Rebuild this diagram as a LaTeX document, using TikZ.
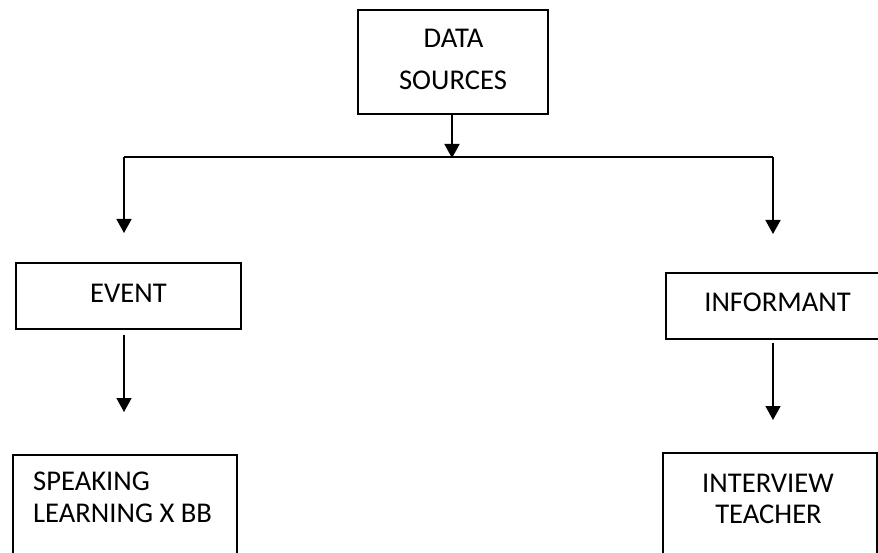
\documentclass[tikz,border=0pt]{standalone}
\usepackage{fontspec}
\setmainfont{Carlito}
\usetikzlibrary{arrows.meta}

\begin{document}
\begin{tikzpicture}[x=1bp, y=-1bp,
  box/.style={draw, line width=1.6bp, minimum width=#1, inner sep=0pt},
  txt/.style={inner sep=0pt, font=\fontsize{28.6bp}{34bp}\selectfont},
  conn/.style={line width=1.6bp},
  flow/.style={conn, -{Triangle[width=15bp, length=14bp]}}]
  \useasboundingbox (0,0) rectangle (878,553);
  \fill[white] (0,0) rectangle (878,553);
  \clip (0,0) rectangle (878,553);

  % boxes
  \node[box=190bp, minimum height=104bp] (src)   at (453,62)    {};
  \node[box=225bp, minimum height=66bp]  (event) at (128.5,296) {};
  \node[box=224bp, minimum height=66bp]  (inf)   at (778,306)   {};
  \node[box=224bp, minimum height=185bp] (speak) at (125,547.5) {};
  \node[box=214bp, minimum height=187bp] (intv)  at (770,546.5) {};

  % labels, one node per printed line
  \node[txt, anchor=base] (srcA) at (453.5,48) {DATA};
  \node[txt, anchor=base] (srcB) at (453,90)   {SOURCES};
  \node[txt, anchor=base] (evA)  at (128.5,303) {EVENT};
  \node[txt, anchor=base] (infA) at (777.5,312) {INFORMANT};
  \node[txt, anchor=base west] (spA) at (33,490) {SPEAKING};
  \node[txt, anchor=base west] (spB) at (33,522) {LEARNING X BB};
  \node[txt, anchor=base] (ivA)  at (768,492)   {INTERVIEW};
  \node[txt, anchor=base] (ivB)  at (768.5,523) {TEACHER};

  % branching bus and arrow ends
  \coordinate (busM) at (452,158);
  \coordinate (busL) at (124,157);
  \coordinate (busR) at (773,157);
  \coordinate (evIn) at (124,233);
  \coordinate (infIn) at (773,234);
  \coordinate (evOut) at (124,335);
  \coordinate (spIn) at (124,412);
  \coordinate (infOut) at (773,343);
  \coordinate (ivIn) at (773,420);

  \draw[flow] (src.south -| busM) -- (busM);
  \draw[conn] (busL) -- (busR);
  \draw[flow] (busL) -- (evIn);
  \draw[flow] (busR) -- (infIn);
  \draw[flow] (evOut) -- (spIn);
  \draw[flow] (infOut) -- (ivIn);
\end{tikzpicture}
\end{document}
